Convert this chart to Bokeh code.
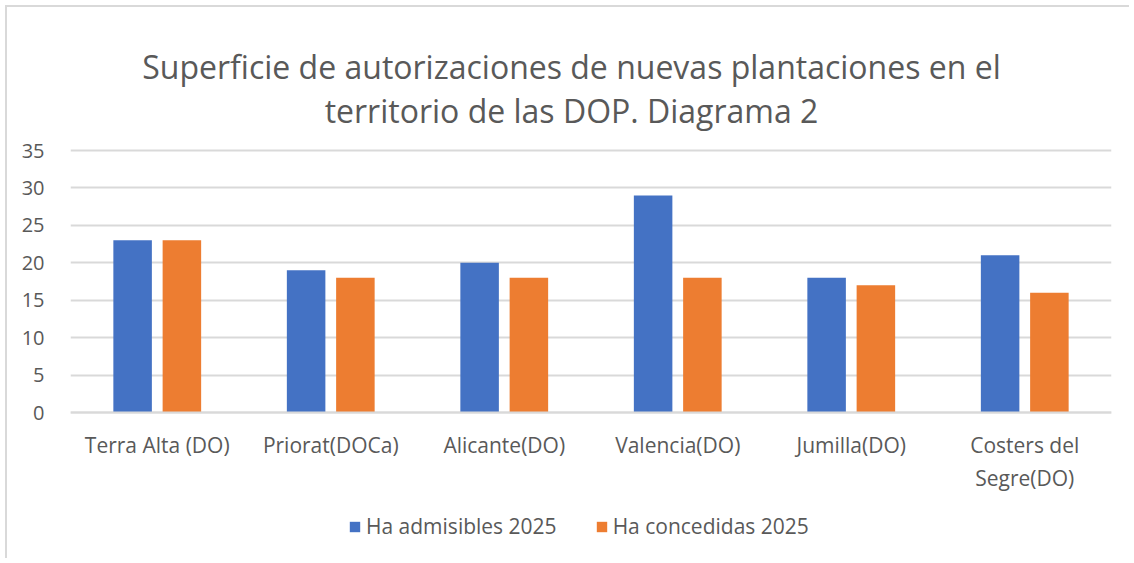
from bokeh.plotting import figure
from bokeh.models import ColumnDataSource, FactorRange, Legend, LegendItem, Label
from bokeh.transform import dodge
from bokeh.embed import file_html
from bokeh.resources import INLINE

categories = ["Terra Alta (DO)", "Priorat(DOCa)", "Alicante(DO)", "Valencia(DO)", "Jumilla(DO)", "Costers del\nSegre(DO)"]
admisibles = [23, 19, 20, 29, 18, 21]
concedidas = [23, 18, 18, 18, 17, 16]
series_names = ["Ha admisibles 2025", "Ha concedidas 2025"]
y_ticks = [0, 5, 10, 15, 20, 25, 30, 35]
title_lines = ["Superficie de autorizaciones de nuevas plantaciones en el", "territorio de las DOP. Diagrama 2"]

FONT = "Open Sans"
TXT = "#595959"
GRID = "#D9D9D9"
BLUE = "#4472C4"
ORANGE = "#ED7D31"

src = ColumnDataSource(dict(cat=categories, adm=admisibles, con=concedidas))

# Layout: the frame fills the full height; 0..35 occupies 262 px of it.
W, H = 1124, 553
PX_PER_UNIT = 262 / 35
Y_TOP = 35 + 143 / PX_PER_UNIT
Y_BOT = -(H - 405) / PX_PER_UNIT

p = figure(x_range=FactorRange(*categories), y_range=(Y_BOT, Y_TOP), title=None,
           width=W, height=H, output_backend="svg", toolbar_location=None,
           min_border_left=63, min_border_right=20, min_border_top=0, min_border_bottom=0,
           styles={"border-top": "2px solid #D9D9D9", "border-left": "2px solid #D9D9D9",
                   "margin-left": "5px", "margin-top": "5px"})
p.outline_line_color = None
p.background_fill_color = "white"
p.border_fill_color = "white"

r1 = p.vbar(x=dodge("cat", -0.142, range=p.x_range), top="adm", width=0.222, source=src,
            fill_color=BLUE, line_color=None)
r2 = p.vbar(x=dodge("cat", 0.142, range=p.x_range), top="con", width=0.222, source=src,
            fill_color=ORANGE, line_color=None)

p.yaxis.ticker = y_ticks
p.yaxis.axis_line_color = None
p.yaxis.major_tick_line_color = None
p.yaxis.minor_tick_line_color = None
p.yaxis.major_label_standoff = 20
p.yaxis.major_label_text_font = FONT
p.yaxis.major_label_text_font_size = "20px"
p.yaxis.major_label_text_color = TXT

p.xaxis.fixed_location = 0
p.xaxis.axis_line_color = GRID
p.xaxis.axis_line_width = 2
p.xaxis.major_tick_line_color = None
p.xaxis.minor_tick_line_color = None
p.xaxis.major_label_standoff = 12
p.xaxis.major_label_text_font = FONT
p.xaxis.major_label_text_font_size = "21px"
p.xaxis.major_label_text_color = TXT

p.xgrid.grid_line_color = None
p.ygrid.grid_line_color = GRID
p.ygrid.grid_line_width = 2

# title lines (positions in the chart's synthetic coordinates)
title_x = (571 - 70) / 173.5
for txt, base_px in zip(title_lines, [66, 110]):
    p.add_layout(Label(x=title_x, y=(412 - base_px) / PX_PER_UNIT, text=txt,
                       text_align="center", text_baseline="alphabetic",
                       text_font=FONT, text_font_size="32px", text_color=TXT))

legend = Legend(items=[LegendItem(label=series_names[0], renderers=[r1]),
                       LegendItem(label=series_names[1], renderers=[r2])],
                orientation="horizontal", location=(278, 20),
                glyph_width=13, glyph_height=13, label_standoff=5, spacing=38,
                padding=0, margin=0, border_line_color=None, background_fill_alpha=0,
                label_text_font=FONT, label_text_font_size="21px", label_text_color=TXT,
                label_height=20)
p.add_layout(legend, "center")

open("out.html", "w").write(file_html(p, INLINE))
